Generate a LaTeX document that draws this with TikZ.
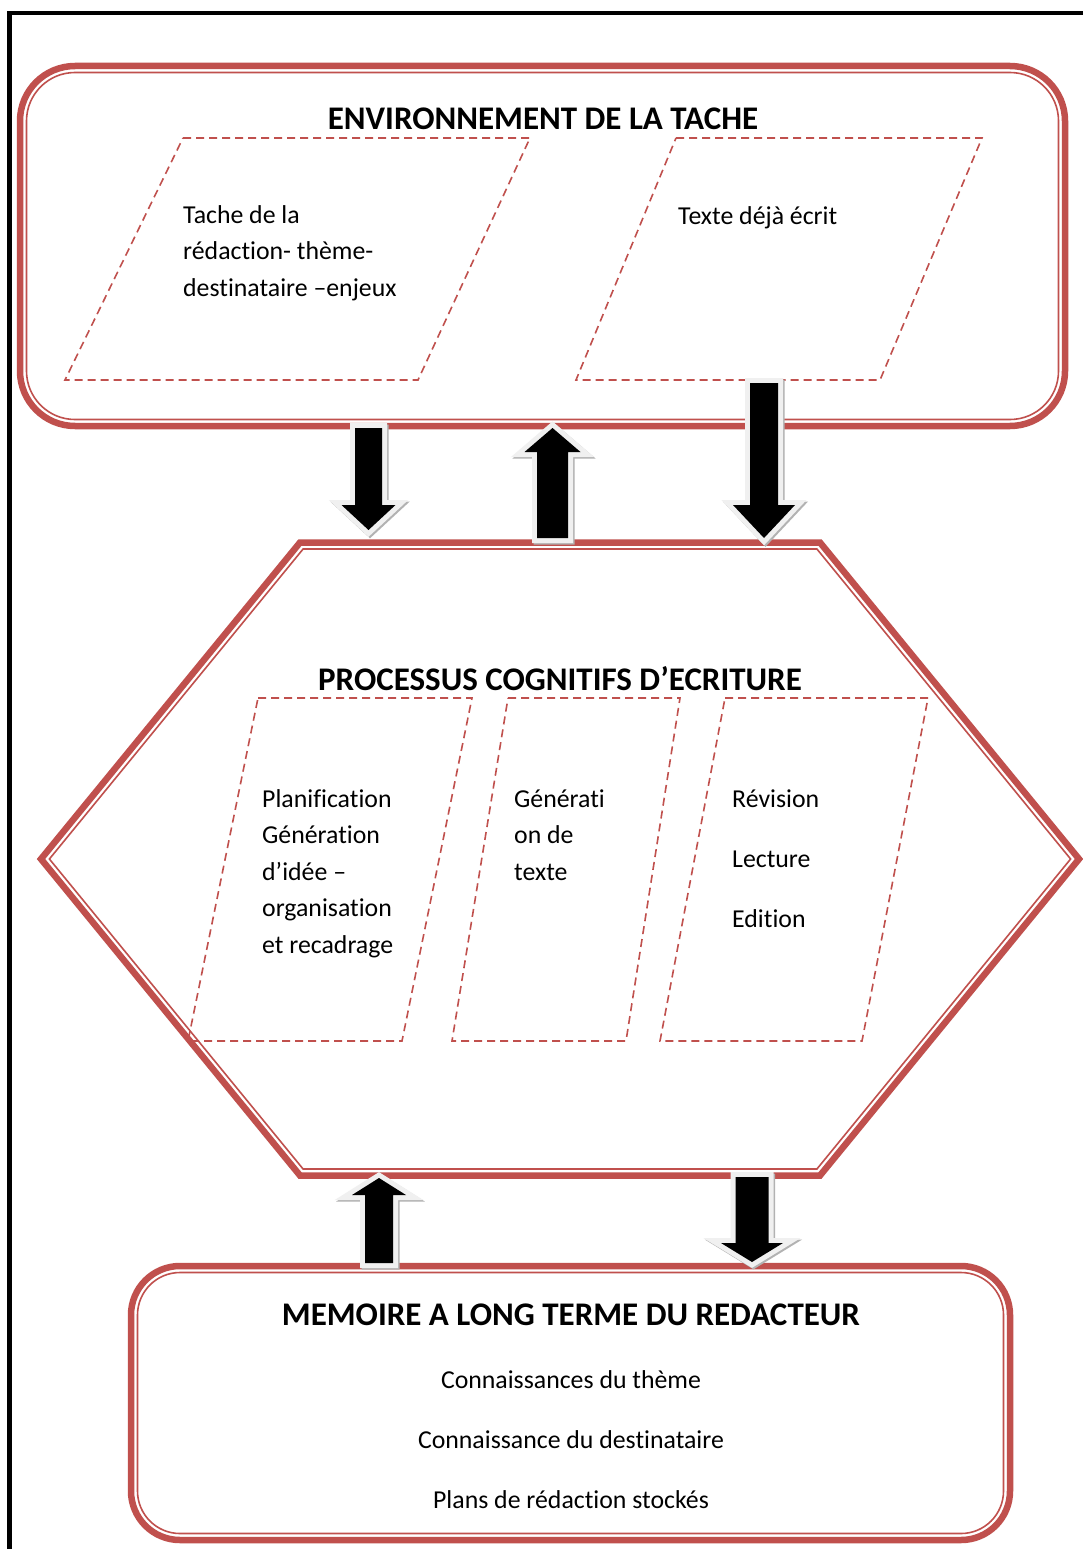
\documentclass[tikz,border=0pt]{standalone}
\usepackage{fontspec}
\setmainfont[Ligatures={NoCommon},RawFeature={-liga;-calt}]{Carlito}
\definecolor{accred}{HTML}{C0504D}
\definecolor{rimgray}{HTML}{F0F0F0}
\tikzset{
  thickline/.style={draw=accred,line width=6.5pt,line join=miter},
  thinline/.style={draw=accred,line width=1.6pt,line join=miter},
  dashbox/.style={draw=accred,line width=1.6pt,dash pattern=on 8pt off 5pt},
  bodytxt/.style={inner sep=0pt,anchor=base west,font=\fontsize{25.8}{30}\selectfont},
  centtxt/.style={inner sep=0pt,anchor=base,font=\fontsize{25.8}{30}\selectfont},
  titletxt/.style={inner sep=0pt,anchor=base,font=\fontsize{33}{40}\selectfont\bfseries},
  arrshadow/.style={draw=gray!60,fill=gray!60,line width=10pt,line join=miter},
  arrrim/.style={draw=rimgray,fill=black,line width=10pt,line join=miter},
  arrcore/.style={fill=black},
}
% #1 cx, #2 tail y, #3 head base y, #4 tip y, #5 shaft half width, #6 head half width
\newcommand\blockarr[6]{%
  \path[arrshadow,shift={(1.5,1.5)}] ({#1-#5},#2) -- ({#1+#5},#2) -- ({#1+#5},#3) -- ({#1+#6},#3) -- (#1,#4) -- ({#1-#6},#3) -- ({#1-#5},#3) -- cycle;
  \path[arrrim] ({#1-#5},#2) -- ({#1+#5},#2) -- ({#1+#5},#3) -- ({#1+#6},#3) -- (#1,#4) -- ({#1-#6},#3) -- ({#1-#5},#3) -- cycle;
  \path[arrcore] ({#1-#5},#2) -- ({#1+#5},#2) -- ({#1+#5},#3) -- ({#1+#6},#3) -- (#1,#4) -- ({#1-#6},#3) -- ({#1-#5},#3) -- cycle;
}
\begin{document}
\begin{tikzpicture}[x=1pt,y=-1pt]
\useasboundingbox (0,0) rectangle (1083,1549);
\fill[white] (0,0) rectangle (1083,1549);
% black frame
\draw[line width=4.5pt] (9.5,1549) -- (9.5,13) -- (1083,13);

% top rounded box
\draw[thickline,rounded corners=55pt] (20,66) rectangle (1065,426);
\draw[thinline,rounded corners=48.5pt] (26.5,72.5) rectangle (1058.5,419.5);
\node[titletxt] (envtitle) at (543,129.6) {ENVIRONNEMENT DE LA TACHE};
\draw[dashbox] (183,138) -- (530,138) -- (418,380) -- (65,380) -- cycle;
\draw[dashbox] (676,138) -- (982,138) -- (880,380) -- (576,380) -- cycle;
\node[bodytxt] (ta) at (183,223) {Tache de la};
\node[bodytxt] (tb) at (183,259.5) {rédaction- thème-};
\node[bodytxt] (tc) at (183,296) {destinataire –enjeux};
\node[bodytxt] (td) at (678,224) {Texte déjà écrit};

% hexagon
\draw[thickline] (300,542.5) -- (820,542.5) -- (1079,859) -- (820,1175.5) -- (300,1175.5) -- (41,859) -- cycle;
\draw[thinline] (303.1,549) -- (816.9,549) -- (1070.6,859) -- (816.9,1169) -- (303.1,1169) -- (49.4,859) -- cycle;
\node[titletxt] (proctitle) at (560,690.6) {PROCESSUS COGNITIFS D’ECRITURE};
\draw[dashbox] (258,698) -- (472,698) -- (402,1041) -- (188,1041) -- cycle;
\draw[dashbox] (508,698) -- (680,698) -- (626,1041) -- (452,1041) -- cycle;
\draw[dashbox] (725,698) -- (928,698) -- (862,1041) -- (660,1041) -- cycle;
\node[bodytxt] (pa) at (262,807) {Planification};
\node[bodytxt] (pb) at (262,843.5) {Génération};
\node[bodytxt] (pc) at (262,880) {d’idée –};
\node[bodytxt] (pd) at (262,916.5) {organisation};
\node[bodytxt] (pe) at (262,953) {et recadrage};
\node[bodytxt] (ga) at (514,807) {Générati};
\node[bodytxt] (gb) at (514,843.5) {on de};
\node[bodytxt] (gc) at (514,880) {texte};
\node[bodytxt] (ra) at (732,807) {Révision};
\node[bodytxt] (rb) at (732,867) {Lecture};
\node[bodytxt] (rc) at (732,927) {Edition};

% bottom rounded box
\draw[thickline,rounded corners=49pt] (131,1266) rectangle (1010,1540);
\draw[thinline,rounded corners=42.5pt] (137.5,1272.5) rectangle (1003.5,1533.5);
\node[titletxt] (memtitle) at (571,1325.6) {MEMOIRE A LONG TERME DU REDACTEUR};
\node[centtxt] (ma) at (571,1388) {Connaissances du thème};
\node[centtxt] (mb) at (571,1448) {Connaissance du destinataire};
\node[centtxt] (mc) at (571,1508) {Plans de rédaction stockés};

% block arrows
\blockarr{368.5}{428}{505}{530}{13.5}{27}
\blockarr{552.5}{538}{452}{428}{15.5}{28}
\blockarr{764}{383}{505}{538}{14}{31}
\blockarr{379}{1263}{1195}{1178}{14}{27}
\blockarr{752}{1177}{1243}{1262}{16.5}{31}
\end{tikzpicture}
\end{document}
